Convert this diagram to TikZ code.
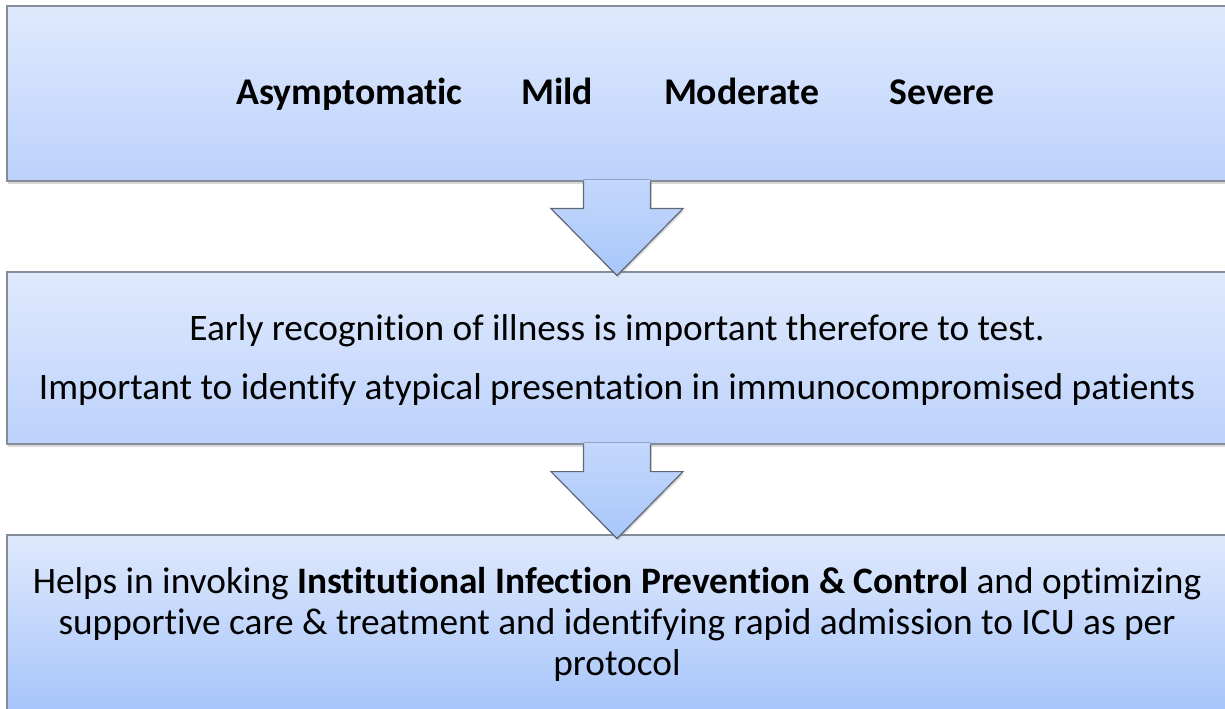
\documentclass[tikz,border=0pt]{standalone}
\usepackage{fontspec}
\setmainfont[RawFeature={-liga}]{Carlito}
\usetikzlibrary{calc,shadows}
\definecolor{boxtop}{HTML}{DFE9FD}
\definecolor{boxbot}{HTML}{BCD2FB}
\definecolor{boxdeep}{HTML}{A6C4FA}
\definecolor{boxline}{HTML}{858D98}
\definecolor{arrtop}{HTML}{C4D8FC}
\definecolor{arrbot}{HTML}{A8C6FA}
\definecolor{arrline}{HTML}{5E6876}
\tikzset{
  stagebox/.style={draw=boxline, line width=0.9pt, inner sep=0pt,
    minimum width=915pt, top color=boxtop, bottom color=boxbot,
    drop shadow={shadow xshift=0.8pt, shadow yshift=-2pt, opacity=0.3}},
  headtext/.style={anchor=base, inner sep=0pt,
    font=\fontsize{28.3}{34}\selectfont\bfseries},
  bodytext/.style={anchor=base, inner sep=0pt,
    font=\fontsize{28}{34}\selectfont},
  arrowfill/.style={top color=arrtop, bottom color=arrbot,
    drop shadow={shadow xshift=1pt, shadow yshift=-1.5pt, opacity=0.3}},
  arrowline/.style={draw=arrline, line width=0.9pt, line join=miter},
}
\begin{document}
\begin{tikzpicture}[x=0.75pt,y=-0.75pt]
  \useasboundingbox (0,0) rectangle (1225,709);
  \clip (0,0) rectangle (1225,709);
  % the three stages
  \node[stagebox, minimum height=131.25pt] (stage) at (617,93.5) {};
  \node[stagebox, minimum height=129pt] (early) at (617,358) {};
  \node[stagebox, minimum height=135pt, bottom color=boxdeep] (helps) at (617,625) {};
  % block arrows between them
  \foreach \b in {stage,early} {
    \fill[arrowfill] ($(\b.south)+(-33.5,-2)$) -- ($(\b.south)+(-33.5,27)$)
      -- ($(\b.south)+(-66,27)$) -- ($(\b.south)+(0,94)$)
      -- ($(\b.south)+(66,27)$) -- ($(\b.south)+(33.5,27)$)
      -- ($(\b.south)+(33.5,-2)$) -- cycle;
    \draw[arrowline] ($(\b.south)+(-33.5,0)$) -- ($(\b.south)+(-33.5,27)$)
      -- ($(\b.south)+(-66,27)$) -- ($(\b.south)+(0,94)$)
      -- ($(\b.south)+(66,27)$) -- ($(\b.south)+(33.5,27)$)
      -- ($(\b.south)+(33.5,0)$);
  }
  % labels
  \node[headtext] (asym) at (349.5,105) {Asymptomatic};
  \node[headtext] (mild) at (557,105) {Mild};
  \node[headtext] (mod) at (741.5,105) {Moderate};
  \node[headtext] (sev) at (942,105) {Severe};
  \node[bodytext] (earlyA) at (617,341) {Early recognition of illness is important therefore to test.};
  \node[bodytext] (earlyB) at (617,399) {Important to identify atypical presentation in immunocompromised patients};
  \node[bodytext] (helpsA) at (617,593) {Helps in invoking \textbf{Institutional Infection Prevention \& Control} and optimizing};
  \node[bodytext] (helpsB) at (617,634) {supportive care \& treatment and identifying rapid admission to ICU as per};
  \node[bodytext] (helpsC) at (617,675) {protocol};
\end{tikzpicture}
\end{document}
